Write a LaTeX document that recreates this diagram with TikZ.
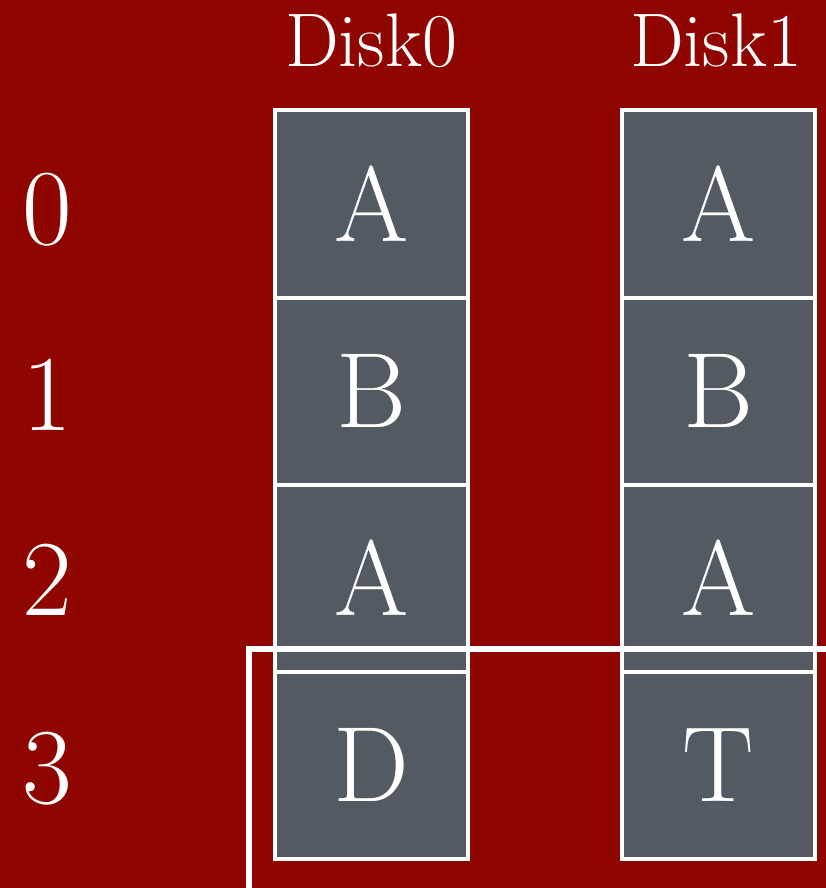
\documentclass[tikz,border=0pt]{standalone}
\usepackage{fontspec}
\definecolor{bgred}{RGB}{143,6,0}
\definecolor{cellgray}{RGB}{84,90,97}
\begin{document}
\begin{tikzpicture}[x=1pt,y=-1pt,
  cell/.style={draw=white,line width=4pt,fill=cellgray,inner sep=0pt,
    minimum width=193pt,minimum height=187pt,text=white,
    font=\fontsize{107}{107}\selectfont},
  rownum/.style={anchor=base,text=white,inner sep=0pt,font=\fontsize{108}{108}\selectfont},
  disklabel/.style={anchor=base,text=white,inner sep=0pt,font=\fontsize{76}{76}\selectfont},
  selbox/.style={draw=white,line width=6pt}]
\useasboundingbox (0,0) rectangle (826,888);
\fill[bgred] (0,0) rectangle (826,888);
\clip (0,0) rectangle (826,888);
% column labels
\node[disklabel] (d0) at (371,67) {Disk0};
\node[disklabel] (d1) at (716,67) {Disk1};
% row numbers
\node[rownum] (r0) at (47,244) {0};
\node[rownum] (r1) at (47,430) {1};
\node[rownum] (r2) at (47,615) {2};
\node[rownum] (r3) at (47,803) {3};
% Disk0 cells
\node[cell] (a0) at (371.5,204) {A};
\node[cell] (a1) at (371.5,391) {B};
\node[cell] (a2) at (371.5,578) {A};
\node[cell] (a3) at (371.5,765) {D};
% Disk1 cells
\node[cell] (b0) at (718.5,204) {A};
\node[cell] (b1) at (718.5,391) {B};
\node[cell] (b2) at (718.5,578) {A};
\node[cell] (b3) at (718.5,765) {T};
% selection rectangle (partly outside the picture)
\coordinate (s1) at (249,649);
\coordinate (s2) at (840,900);
\draw[selbox] (s1) rectangle (s2);
\end{tikzpicture}
\end{document}
